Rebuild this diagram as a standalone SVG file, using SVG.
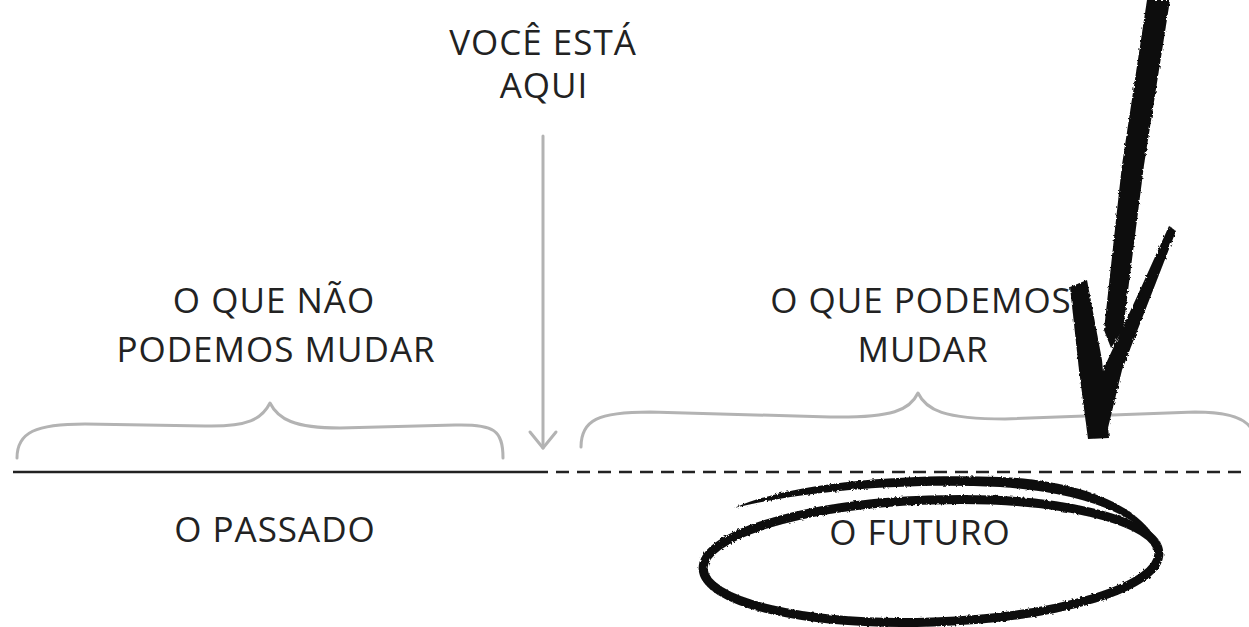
<svg xmlns="http://www.w3.org/2000/svg" width="1249" height="627" viewBox="0 0 1249 627">
<style>
.t{font-family:"Open Sans","Liberation Sans",sans-serif;font-size:35px;font-weight:500;letter-spacing:1px;fill:#222222;text-anchor:middle}
.g{fill:none;stroke:#b3b3b3;stroke-width:3;stroke-linecap:round;stroke-linejoin:round}
.ink{fill:#0a0a0a}
</style>
<defs>
<filter id="rough" x="-5%" y="-5%" width="110%" height="110%">
<feTurbulence type="fractalNoise" baseFrequency="0.35" numOctaves="2" seed="3"/>
<feDisplacementMap in="SourceGraphic" scale="3"/>
</filter>
</defs>
<rect width="1249" height="627" fill="#ffffff"/>
<g id="connectors">
<line x1="13" y1="472" x2="548" y2="472" stroke="#222" stroke-width="2.5"/>
<line x1="556" y1="472" x2="1249" y2="472" stroke="#222" stroke-width="2.5" stroke-dasharray="13 8"/>
<g id="here-arrow">
<line class="g" x1="543" y1="136" x2="543" y2="448"/>
<polyline class="g" points="530,432 543,448 556,432"/>
</g>
</g>
<g id="brace-left">
<path class="g" d="M17,458 C17,432 36,424 85,424 L205,426 C248,427 262,419 270,403 C278,419 294,428 340,428 L455,425 C494,424 503,430 503,458"/>
</g>
<g id="brace-right">
<path class="g" d="M581,447 C581,420 598,412 650,412 L830,417 C893,418 910,410 918,393 C926,410 944,419 1005,419 L1195,412 C1232,412 1247,420 1252,430"/>
</g>
<g id="here">
<text class="t" x="543" y="55">VOCÊ ESTÁ</text>
<text class="t" x="544" y="98">AQUI</text>
</g>
<g id="cannot-change">
<text class="t" x="274" y="313">O QUE NÃO</text>
<text class="t" x="276" y="362">PODEMOS MUDAR</text>
</g>
<g id="can-change">
<text class="t" x="921" y="313">O QUE PODEMOS</text>
<text class="t" x="923" y="362">MUDAR</text>
</g>
<g id="past">
<text class="t" x="275" y="542">O PASSADO</text>
</g>
<g id="future">
<text class="t" x="920" y="545">O FUTURO</text>
<g filter="url(#rough)">
<ellipse cx="931" cy="561" rx="228" ry="61" transform="rotate(-2 931 561)" fill="none" stroke="#0a0a0a" stroke-width="9"/>
<path class="ink" d="M734,508 C790,483 900,473 1000,477 C1090,481 1148,510 1162,552 C1146,519 1090,493 1000,487 C900,482 800,492 734,508 Z"/>
</g>
</g>
<g id="big-arrow" filter="url(#rough)">
<path class="ink" d="M1147,0 L1170,0 L1144,165 L1123,330 L1111,348 L1104,330 L1122,165 Z"/>
<path class="ink" d="M1070,287 L1087,280 L1102,360 L1109,438 L1088,439 L1079,370 Z"/>
<path class="ink" d="M1169,226 L1176,231 L1122,370 L1107,432 L1093,426 L1103,370 L1140,290 Z"/>
</g>
</svg>
